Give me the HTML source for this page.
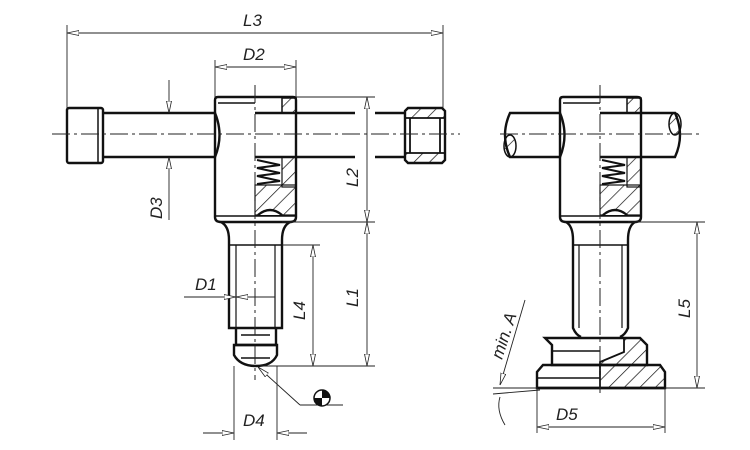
<!DOCTYPE html>
<html><head><meta charset="utf-8"><style>
html,body{margin:0;padding:0;background:#fff;}
svg{display:block}
text{font-family:"Liberation Sans",sans-serif;font-style:italic;font-size:17px;fill:#222;}
</style></head><body>
<svg width="750" height="450" viewBox="0 0 750 450" xmlns="http://www.w3.org/2000/svg">
<defs>
<pattern id="h" width="11" height="11" patternUnits="userSpaceOnUse" patternTransform="rotate(45)">
<line x1="0" y1="0" x2="0" y2="11" stroke="#111" stroke-width="1.4"/></pattern>
<marker id="a" viewBox="0 0 12 6" refX="12" refY="3" markerWidth="12" markerHeight="6" orient="auto-start-reverse" markerUnits="userSpaceOnUse">
<path d="M0,0.5 L12,3 L0,5.5 Z" fill="#fff" stroke="#222" stroke-width="0.8"/></marker>
</defs>
<g fill="none" stroke="#111" stroke-width="2.4">
<!-- LEFT VIEW -->
<rect x="67" y="108" width="36" height="55" rx="2"/>
<line x1="98" y1="108" x2="98" y2="163" stroke-width="1.5"/>
<line x1="103" y1="113" x2="215" y2="113"/>
<line x1="103" y1="157" x2="215" y2="157"/>
<line x1="255" y1="113" x2="355" y2="113"/><line x1="375" y1="113" x2="405" y2="113"/>
<line x1="255" y1="157" x2="355" y2="157"/><line x1="375" y1="157" x2="405" y2="157"/>
<path d="M405,111 L408,108 L442,108 L445,111 L445,160 L442,163 L408,163 L405,160 Z"/>
<rect x="406" y="109" width="38" height="9" fill="url(#h)" stroke="none"/>
<rect x="406" y="153" width="38" height="9" fill="url(#h)" stroke="none"/>
<line x1="405" y1="118" x2="445" y2="118" stroke-width="1.8"/>
<line x1="405" y1="153" x2="445" y2="153" stroke-width="1.8"/>
<line x1="410" y1="118" x2="410" y2="153" stroke-width="1.8"/>
<line x1="440" y1="118" x2="440" y2="153" stroke-width="1.8"/>
<!-- body -->
<path d="M215,100 Q215,97 218,97 L293,97 Q296,97 296,100 L296,217 Q296,222 290,222 L221,222 Q215,222 215,217 Z" fill="#fff"/>
<path d="M215,113 Q224,135 215,157" />
<line x1="218" y1="103" x2="255" y2="103" stroke-width="1.5"/>
<rect x="282" y="98" width="14" height="15" fill="url(#h)" stroke-width="1.5"/>
<line x1="255" y1="113" x2="296" y2="113"/><line x1="255" y1="157" x2="296" y2="157"/>
<rect x="255" y="185" width="41" height="30" fill="url(#h)" stroke-width="1.2"/>
<rect x="282" y="157" width="14" height="30" fill="url(#h)" stroke-width="1.2"/>
<path d="M257,160 L280,165 L257,168 L280,173 L257,176 L280,181 L257,184" stroke-width="2"/>
<path d="M258,215 Q270,205 282,215" fill="#fff"/>
<line x1="215" y1="216" x2="296" y2="216" stroke-width="1.5"/>
<!-- neck & shaft -->
<path d="M221,222 Q229,226 229,240 L229,328 L282,328 L282,240 Q282,226 290,222"/>
<line x1="229" y1="245" x2="282" y2="245" stroke-width="1.5"/>
<line x1="236" y1="245" x2="236" y2="328" stroke-width="1.2"/>
<line x1="275" y1="245" x2="275" y2="328" stroke-width="1.2"/>
<path d="M236,328 L236,345 L276,345 L276,328"/>
<line x1="241" y1="335" x2="270" y2="335" stroke-width="1.5"/>
<path d="M234,345 L234,355 Q240,366 256,366 Q272,366 277,355 L277,345 Z"/>
<line x1="241" y1="358" x2="270" y2="358" stroke-width="1.5"/>
<!-- RIGHT VIEW -->
<path d="M560,113 L510,113 Q500,135 510,157 L560,157"/>
<ellipse cx="510" cy="146" rx="6" ry="11" fill="url(#h)" stroke-width="1.5"/>
<path d="M640,113 L675,113 Q685,135 675,157 L640,157"/>
<ellipse cx="675" cy="124" rx="6" ry="11" fill="url(#h)" stroke-width="1.5"/>
<path d="M560,100 Q560,97 563,97 L637,97 Q641,97 641,100 L641,217 Q641,222 635,222 L566,222 Q560,222 560,217 Z" fill="none"/>
<path d="M560,113 Q569,135 560,157"/>
<rect x="627" y="98" width="14" height="15" fill="url(#h)" stroke-width="1.5"/>
<line x1="563" y1="103" x2="600" y2="103" stroke-width="1.5"/>
<line x1="600" y1="113" x2="641" y2="113"/><line x1="600" y1="157" x2="641" y2="157"/>
<rect x="600" y="185" width="41" height="30" fill="url(#h)" stroke-width="1.2"/>
<rect x="627" y="157" width="14" height="30" fill="url(#h)" stroke-width="1.2"/>
<path d="M602,160 L625,165 L602,168 L625,173 L602,176 L625,181 L602,184" stroke-width="2"/>
<path d="M603,215 Q615,205 627,215" fill="#fff"/>
<line x1="560" y1="216" x2="641" y2="216" stroke-width="1.5"/>
<path d="M566,222 Q573,226 573,240 L573,328 Q576,335 581,337"/>
<path d="M635,222 Q628,226 628,240 L628,328 Q625,335 620,337"/>
<line x1="573" y1="245" x2="628" y2="245" stroke-width="1.5"/>
<line x1="579" y1="245" x2="579" y2="328" stroke-width="1.2"/>
<line x1="622" y1="245" x2="622" y2="328" stroke-width="1.2"/>
<path d="M545,338 L640,338 L647,345 L647,365 L552,365 L552,345 Z"/>
<line x1="552" y1="351" x2="600" y2="351" stroke-width="1.5"/>
<path d="M543,365 L660,365 L665,372 L665,388 L537,388 L537,372 Z"/>
<path d="M600,388 L665,388 L665,372 L660,365 L647,365 L647,345 L640,338 L624,338 L624,352 L600,362 Z" fill="url(#h)" stroke-width="1.8"/>
<line x1="537" y1="378" x2="600" y2="378" stroke-width="1.5"/>
<line x1="537" y1="388" x2="665" y2="388"/>
</g>
<!-- centerlines -->
<g stroke="#222" stroke-width="1" stroke-dasharray="18,4,3,4" fill="none">
<line x1="52" y1="134" x2="460" y2="134"/>
<line x1="255" y1="85" x2="255" y2="380"/>
<line x1="500" y1="134" x2="700" y2="134"/>
<line x1="600" y1="85" x2="600" y2="395"/>
</g>
<!-- dimensions -->
<g stroke="#222" stroke-width="0.9" fill="none">
<line x1="67" y1="25" x2="67" y2="108"/><line x1="443" y1="25" x2="443" y2="108"/>
<line x1="67" y1="33" x2="443" y2="33" marker-start="url(#a)" marker-end="url(#a)"/>
<line x1="215" y1="60" x2="215" y2="97"/><line x1="296" y1="60" x2="296" y2="97"/>
<line x1="215" y1="67" x2="296" y2="67" marker-start="url(#a)" marker-end="url(#a)"/>
<line x1="169" y1="80" x2="169" y2="113" marker-end="url(#a)"/>
<line x1="169" y1="220" x2="169" y2="157" marker-end="url(#a)"/>
<line x1="296" y1="97" x2="375" y2="97"/><line x1="282" y1="222" x2="375" y2="222"/>
<line x1="367" y1="97" x2="367" y2="222" marker-start="url(#a)" marker-end="url(#a)"/>
<line x1="367" y1="222" x2="367" y2="366" marker-start="url(#a)" marker-end="url(#a)"/>
<line x1="260" y1="366" x2="375" y2="366"/><line x1="282" y1="245" x2="320" y2="245"/>
<line x1="313" y1="245" x2="313" y2="366" marker-start="url(#a)" marker-end="url(#a)"/>
<line x1="184" y1="297" x2="236" y2="297" marker-end="url(#a)"/>
<line x1="236" y1="297" x2="275" y2="297" marker-start="url(#a)"/>
<line x1="234" y1="366" x2="234" y2="440"/><line x1="277" y1="366" x2="277" y2="440"/>
<line x1="203" y1="433" x2="234" y2="433" marker-end="url(#a)"/>
<line x1="307" y1="433" x2="277" y2="433" marker-end="url(#a)"/>
<line x1="300" y1="405" x2="258" y2="367" marker-end="url(#a)"/>
<line x1="300" y1="405" x2="343" y2="405"/>
<line x1="628" y1="222" x2="705" y2="222"/><line x1="665" y1="388" x2="705" y2="388"/>
<line x1="697" y1="222" x2="697" y2="388" marker-start="url(#a)" marker-end="url(#a)"/>
<line x1="537" y1="388" x2="537" y2="433"/><line x1="665" y1="388" x2="665" y2="433"/>
<line x1="537" y1="427" x2="665" y2="427" marker-start="url(#a)" marker-end="url(#a)"/>
<line x1="493" y1="388" x2="537" y2="388"/><line x1="493" y1="394" x2="540" y2="390"/>
<line x1="525" y1="300" x2="500" y2="385" marker-end="url(#a)"/>
<path d="M500,397 Q496,410 505,425"/>
</g>
<circle cx="322" cy="398" r="8" fill="#fff" stroke="#111" stroke-width="1.5"/>
<path d="M322,390 A8,8 0 0 1 330,398 L322,398 Z M322,406 A8,8 0 0 1 314,398 L322,398 Z" fill="#111"/>
<text x="243" y="26">L3</text>
<text x="243" y="60">D2</text>
<text x="195" y="290">D1</text>
<text x="243" y="426">D4</text>
<text x="556" y="420">D5</text>
<text transform="translate(162,219) rotate(-90)">D3</text>
<text transform="translate(358,187) rotate(-90)">L2</text>
<text transform="translate(358,307) rotate(-90)">L1</text>
<text transform="translate(305,320) rotate(-90)">L4</text>
<text transform="translate(690,318) rotate(-90)">L5</text>
<text transform="translate(502,360) rotate(-72)">min. A</text>
</svg>
</body></html>
